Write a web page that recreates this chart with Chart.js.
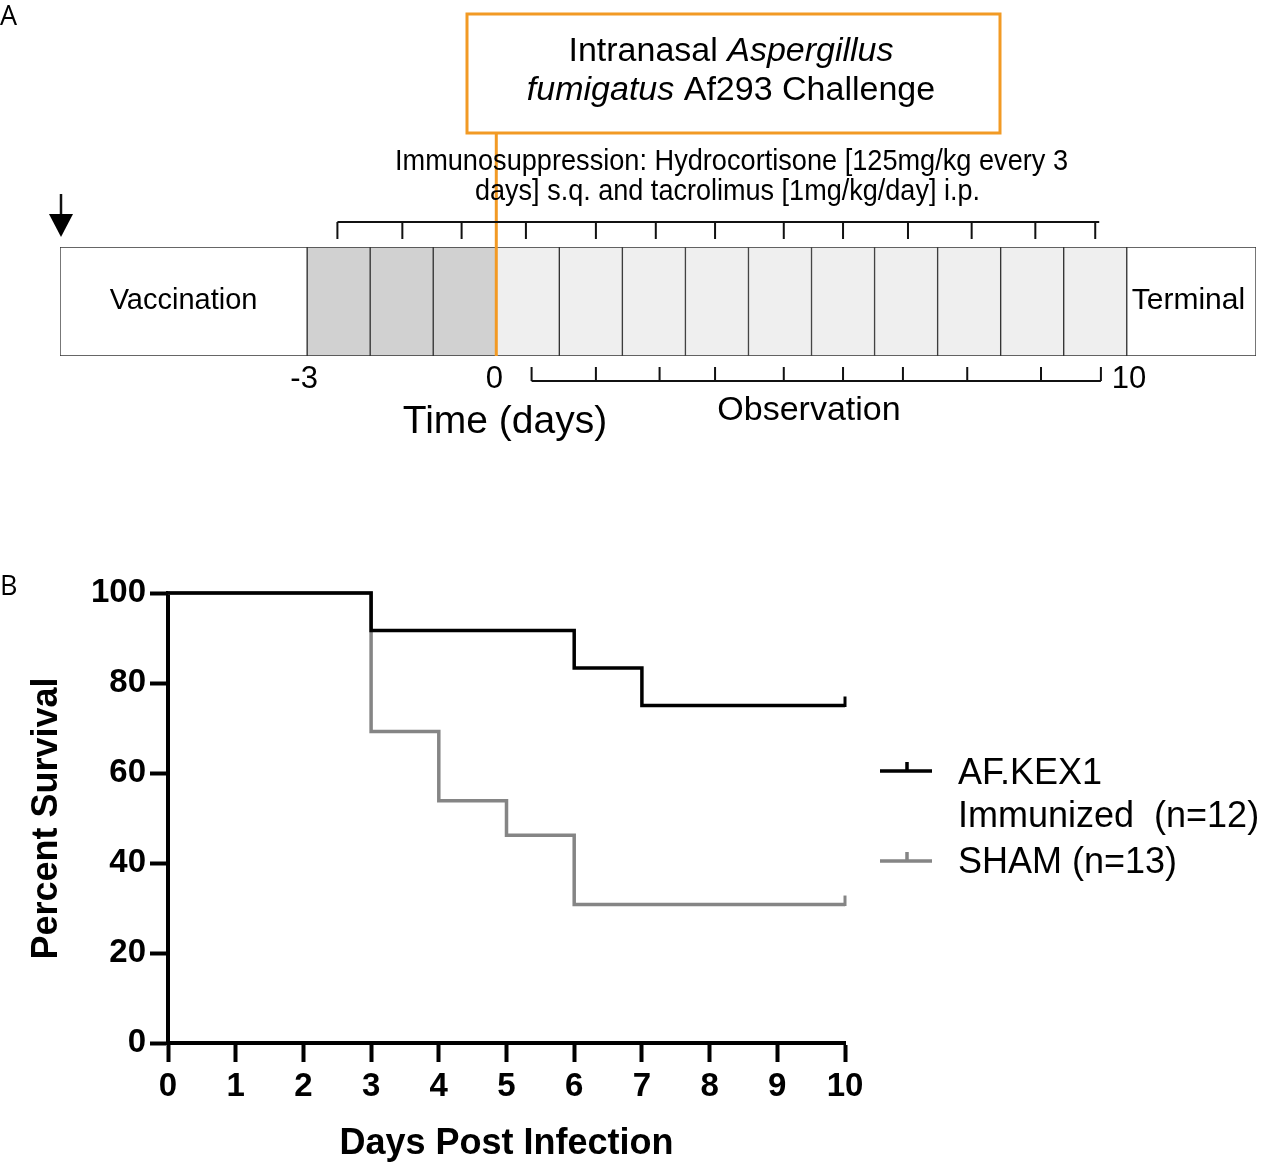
<!DOCTYPE html>
<html>
<head>
<meta charset="utf-8">
<script src="https://cdn.jsdelivr.net/npm/chart.js@4.4.1/dist/chart.umd.min.js"></script>
<style>
  html, body { margin: 0; padding: 0; background: #fff; }
  #wrap { position: relative; width: 1262px; height: 1163px; }
  canvas { position: absolute; left: 0; }
  #timeline { top: 0; }
  #survival { top: 470px; }
</style>
</head>
<body>
<div id="wrap">
  <canvas id="timeline" width="1262" height="470"></canvas>
  <canvas id="survival" width="1262" height="693"></canvas>
</div>
<script>
// ---------- Panel A: study timeline (days) ----------
const vaccinationSpan = [-6.92, -3];
const suppressionCells = [[-3, -2], [-2, -1], [-1, 0]];
const observationCells = [[0, 1], [1, 2], [2, 3], [3, 4], [4, 5], [5, 6], [6, 7], [7, 8], [8, 9], [9, 10]];
const terminalSpan = [10, 12.05];
const challengeDay = 0;
const injectionMarks = [-2.52, -1.49, -0.55, 0.47, 1.58, 2.53, 3.47, 4.56, 5.5, 6.53, 7.54, 8.55, 9.5];
const observationMarks = [0.56, 1.58, 2.59, 3.47, 4.56, 5.5, 6.45, 7.47, 8.64, 9.59];
const timeTickLabels = ["-3", "0", "10"];
const timeTickDays = [-3, 0, 10];

// ---------- Panel B: Kaplan-Meier survival ----------
const kexDays = [0, 3, 6, 7, 10];
const kexSurvival = [100, 91.67, 83.33, 75, 75];
const shamDays = [0, 3, 4, 5, 6, 10];
const shamSurvival = [100, 69.23, 53.85, 46.15, 30.77, 30.77];
const kexCensored = [[10, 75]];
const shamCensored = [[10, 30.77]];
const dayTicks = [0, 1, 2, 3, 4, 5, 6, 7, 8, 9, 10];
const survivalTicks = [0, 20, 40, 60, 80, 100];
const seriesLabels = [["AF.KEX1", "Immunized  (n=12)"], ["SHAM (n=13)"]];

const FONT = '"Liberation Sans", Arial, sans-serif';
const LETTER_FONT = '27px "Open Sans", "DejaVu Sans", sans-serif';
const ORANGE = "#f29a24";

function runsCentered(ctx, runs, cx, y) {
  const widths = runs.map(r => { ctx.font = r.font; return ctx.measureText(r.text).width; });
  let xx = cx - widths.reduce((a, b) => a + b, 0) / 2;
  ctx.textAlign = "left";
  runs.forEach((r, i) => { ctx.font = r.font; ctx.fillText(r.text, xx, y); xx += widths[i]; });
}

// squeeze text horizontally to a given width (narrow typeface in the original)
function fitText(ctx, text, cx, y, w) {
  const nat = ctx.measureText(text).width;
  ctx.save();
  ctx.translate(cx, y);
  ctx.scale(w / nat, 1);
  ctx.textAlign = "center";
  ctx.fillText(text, 0, 0);
  ctx.restore();
}

const timelineDecor = {
  id: "timelineDecor",
  afterDatasetsDraw(chart) {
    const { ctx, chartArea } = chart;
    const x = chart.scales.x;
    const px = d => x.getPixelForValue(d);
    ctx.save();
    ctx.fillStyle = "#000";
    ctx.textBaseline = "alphabetic";

    ctx.font = LETTER_FONT;
    ctx.textAlign = "left";
    ctx.fillText("A", 0, 25);

    // challenge box and line
    ctx.strokeStyle = ORANGE;
    ctx.lineWidth = 3;
    ctx.strokeRect(467, 14, 533, 119);
    ctx.beginPath();
    ctx.moveTo(px(challengeDay), 133);
    ctx.lineTo(px(challengeDay), chartArea.bottom);
    ctx.stroke();

    runsCentered(ctx, [
      { text: "Intranasal ", font: "34px " + FONT },
      { text: "Aspergillus", font: "italic 34px " + FONT }
    ], 731, 61);
    runsCentered(ctx, [
      { text: "fumigatus", font: "italic 34px " + FONT },
      { text: " Af293 Challenge", font: "34px " + FONT }
    ], 731, 100);

    ctx.font = "29px " + FONT;
    fitText(ctx, "Immunosuppression: Hydrocortisone [125mg/kg every 3", 731.5, 170, 673);
    fitText(ctx, "days] s.q. and tacrolimus [1mg/kg/day] i.p.", 727.5, 200, 505);

    // injection bracket
    ctx.strokeStyle = "#111";
    ctx.lineWidth = 2;
    ctx.beginPath();
    ctx.moveTo(px(injectionMarks[0]), 222);
    ctx.lineTo(px(injectionMarks[injectionMarks.length - 1]) + 4, 222);
    injectionMarks.forEach(d => { ctx.moveTo(px(d), 222); ctx.lineTo(px(d), 239); });
    ctx.stroke();

    // observation bracket
    ctx.beginPath();
    ctx.moveTo(px(observationMarks[0]), 381);
    ctx.lineTo(px(observationMarks[observationMarks.length - 1]), 381);
    observationMarks.forEach(d => { ctx.moveTo(px(d), 381); ctx.lineTo(px(d), 367); });
    ctx.stroke();

    // vaccination arrow
    ctx.lineWidth = 2.5;
    ctx.beginPath();
    ctx.moveTo(61, 194);
    ctx.lineTo(61, 216);
    ctx.stroke();
    ctx.beginPath();
    ctx.moveTo(49, 214);
    ctx.lineTo(73, 214);
    ctx.lineTo(61, 237);
    ctx.closePath();
    ctx.fill();

    ctx.font = "29px " + FONT;
    ctx.textAlign = "center";
    ctx.fillText("Vaccination", (px(vaccinationSpan[0]) + px(vaccinationSpan[1])) / 2, 309);
    ctx.textAlign = "left";
    ctx.font = "30px " + FONT;
    ctx.fillText("Terminal", px(terminalSpan[0]) + 5, 309);

    ctx.font = "31px " + FONT;
    ctx.textAlign = "center";
    ctx.fillText(timeTickLabels[0], px(timeTickDays[0]) - 3, 388);
    ctx.fillText(timeTickLabels[1], px(timeTickDays[1]) - 2, 388);
    ctx.textAlign = "left";
    ctx.fillText(timeTickLabels[2], px(timeTickDays[2]) - 15, 388);

    ctx.font = "39px " + FONT;
    ctx.textAlign = "center";
    ctx.fillText("Time (days)", 505, 433);
    ctx.font = "34px " + FONT;
    ctx.fillText("Observation", 809, 420);
    ctx.restore();
  }
};

const cell = r => ({ x: r, y: "t" });
const cellStyle = { borderColor: "#333333", borderWidth: 1, borderSkipped: false, grouped: false,
  barPercentage: 1, categoryPercentage: 1 };

new Chart(document.getElementById("timeline"), {
  type: "bar",
  data: {
    labels: ["t"],
    datasets: [
      { label: "Vaccination", data: [cell(vaccinationSpan)], backgroundColor: "#ffffff", ...cellStyle },
      { label: "Immunosuppression", data: suppressionCells.map(cell), backgroundColor: "#d1d1d1", ...cellStyle },
      { label: "Observation", data: observationCells.map(cell), backgroundColor: "#efefef", ...cellStyle },
      { label: "Terminal", data: [cell(terminalSpan)], backgroundColor: "#ffffff", ...cellStyle }
    ]
  },
  options: {
    indexAxis: "y",
    responsive: false,
    animation: false,
    devicePixelRatio: 1,
    layout: { padding: { left: 60, right: 6, top: 247, bottom: 114 } },
    plugins: { legend: { display: false }, tooltip: { enabled: false } },
    scales: {
      x: { type: "linear", min: vaccinationSpan[0], max: terminalSpan[1], display: false },
      y: { type: "category", display: false }
    }
  },
  plugins: [timelineDecor]
});

// ---------- Panel B ----------
const survivalDecor = {
  id: "survivalDecor",
  afterDatasetsDraw(chart) {
    const { ctx } = chart;
    const x = chart.scales.x, y = chart.scales.y;
    ctx.save();
    ctx.lineWidth = 3;
    [[kexCensored, 0], [shamCensored, 1]].forEach(([pts, di]) => {
      ctx.strokeStyle = chart.data.datasets[di].borderColor;
      pts.forEach(([d, v]) => {
        const cx = x.getPixelForValue(d), cy = y.getPixelForValue(v);
        ctx.beginPath();
        ctx.moveTo(cx, cy + 1.5);
        ctx.lineTo(cx, cy - 9);
        ctx.stroke();
      });
    });
    ctx.restore();
  },
  afterDraw(chart) {
    const { ctx } = chart;
    ctx.save();
    ctx.fillStyle = "#000";
    ctx.textBaseline = "alphabetic";
    ctx.font = LETTER_FONT;
    ctx.textAlign = "left";
    ctx.fillText("B", 0, 125);

    ctx.font = "bold 36px " + FONT;
    ctx.textAlign = "center";
    ctx.fillText("Days Post Infection", 506.5, 684);
    ctx.save();
    ctx.translate(57, 348.5);
    ctx.rotate(-Math.PI / 2);
    ctx.font = "bold 36px " + FONT;
    ctx.fillText("Percent Survival", 0, 0);
    ctx.restore();

    // legend
    const rows = [[301, [313.5, 357]], [391, [402.5]]];
    rows.forEach(([ly, baselines], i) => {
      ctx.strokeStyle = chart.data.datasets[i].borderColor;
      ctx.lineWidth = 3.5;
      ctx.beginPath();
      ctx.moveTo(880, ly);
      ctx.lineTo(932, ly);
      ctx.moveTo(907, ly);
      ctx.lineTo(907, ly - 9);
      ctx.stroke();
      ctx.font = "36px " + FONT;
      ctx.textAlign = "left";
      ctx.fillStyle = "#000";
      seriesLabels[i].forEach((t, k) => ctx.fillText(t, 958, baselines[k]));
    });
    ctx.restore();
  }
};

const toPoints = (xs, ys) => xs.map((d, i) => ({ x: d, y: ys[i] }));
const lineStyle = { stepped: "before", borderWidth: 3.5, pointRadius: 0, clip: false, fill: false,
  borderJoinStyle: "miter", borderCapStyle: "butt" };
const axisFont = { family: FONT, size: 33, weight: "bold" };

new Chart(document.getElementById("survival"), {
  type: "line",
  data: {
    datasets: [
      { label: seriesLabels[0].join(" "), data: toPoints(kexDays, kexSurvival), borderColor: "#000000", ...lineStyle },
      { label: seriesLabels[1].join(" "), data: toPoints(shamDays, shamSurvival), borderColor: "#858585", ...lineStyle }
    ]
  },
  options: {
    responsive: false,
    animation: false,
    devicePixelRatio: 1,
    layout: { padding: { left: 0, right: 417, top: 123, bottom: 0 } },
    plugins: { legend: { display: false }, tooltip: { enabled: false } },
    scales: {
      x: {
        type: "linear", min: 0, max: 10,
        afterBuildTicks: s => { s.ticks = dayTicks.map(v => ({ value: v })); },
        afterFit: s => { s.height = 120; },
        grid: { drawOnChartArea: false, drawTicks: true, tickLength: 19, tickWidth: 4, tickColor: "#000" },
        border: { display: true, color: "#000", width: 4 },
        ticks: { color: "#000", font: axisFont, padding: 5, maxRotation: 0 }
      },
      y: {
        type: "linear", min: 0, max: 100,
        afterBuildTicks: s => { s.ticks = survivalTicks.map(v => ({ value: v })); },
        afterFit: s => { s.width = 168; },
        grid: { drawOnChartArea: false, drawTicks: true, tickLength: 18, tickWidth: 4, tickColor: "#000" },
        border: { display: true, color: "#000", width: 4 },
        ticks: { color: "#000", font: axisFont, padding: 4 }
      }
    }
  },
  plugins: [survivalDecor]
});
</script>
</body>
</html>
